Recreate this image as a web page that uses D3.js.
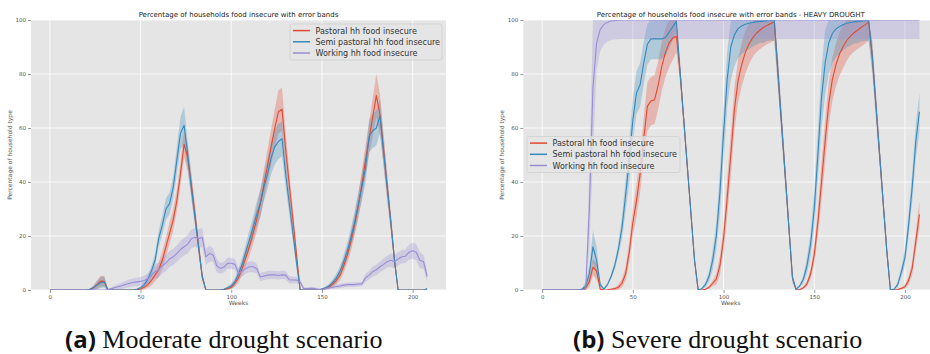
<!DOCTYPE html>
<html>
<head>
<meta charset="utf-8">
<script src="https://cdn.jsdelivr.net/npm/d3@7"></script>
<style>
  body { margin: 0; background: #fff; }
  svg { display: block; font-family: "DejaVu Sans", sans-serif; }
</style>
</head>
<body>
<script>
// x positions of the samples (every 2 weeks, week 0..208)
const weeks = d3.range(0, 209, 2);
const xTicks = [0, 50, 100, 150, 200];
const yTicks = [0, 20, 40, 60, 80, 100];

const seriesNames = ['Pastoral hh food insecure', 'Semi pastoral hh food insecure', 'Working hh food insecure'];
const seriesColors = ['#E24A33', '#348ABD', '#988ED5'];

// (a) moderate drought -- mean % and half-width of the error band
const pastoralA = [
  0, 0, 0, 0, 0, 0, 0, 0, 0, 0,
  0, 0.2, 0.8, 2, 3.3, 3.2, 0, 0, 0, 0,
  0, 0, 0, 0, 0.1, 0.4, 1, 2, 3.5, 5.5,
  7.5, 11, 16, 21, 26, 33, 43, 54, 49, 39,
  28, 16, 5, 0, 0, 0, 0, 0, 0.2, 0.5,
  1, 2.5, 4.5, 8, 12, 16, 21, 26, 32, 39,
  46, 53, 60, 66, 67, 52, 39, 26, 13, 0,
  0, 0, 0, 0, 0, 0.3, 0.6, 1.2, 2.2, 3.6,
  5.5, 9, 13, 18, 24, 31, 39, 48, 56, 64,
  72, 65, 52, 38, 25, 11, 0, 0, 0, 0,
  0, 0, 0, 0, 0
];
const pastoralErrA = [
  0, 0, 0, 0, 0, 0, 0, 0, 0, 0,
  0, 0.3, 0.8, 1.5, 2, 2, 0.3, 0, 0, 0,
  0, 0, 0, 0, 0.2, 0.4, 0.8, 1.2, 1.8, 2.2,
  2.8, 3.2, 3.5, 4, 4, 4, 4.5, 5, 5, 4.5,
  4, 3, 1.5, 0, 0, 0, 0, 0, 0.2, 0.4,
  0.8, 1.2, 1.8, 2.5, 3, 3.5, 4, 4.5, 5, 5.5,
  6, 6.5, 7, 8, 8, 6.5, 5, 4, 2.5, 0,
  0, 0, 0, 0, 0, 0.2, 0.4, 0.7, 1, 1.5,
  2, 2.5, 3, 3.5, 4, 4.5, 5, 5.5, 6, 7,
  8, 7.5, 6, 5, 3.5, 2, 0, 0, 0, 0,
  0, 0, 0, 0, 0
];
const semiA = [
  0, 0, 0, 0, 0, 0, 0, 0, 0, 0,
  0, 0.3, 0.8, 1.8, 2.7, 3, 0, 0, 0, 0,
  0, 0, 0, 0, 0.3, 0.8, 2, 4, 7, 11,
  19, 24, 30, 32, 38, 48, 58, 61, 50, 38,
  27, 16, 5, 0, 0, 0, 0, 0, 0.3, 0.8,
  1.5, 3, 6, 9.5, 14, 18.5, 23, 28, 32, 38,
  43, 49, 53, 55, 56, 43, 32, 21, 10, 0,
  0, 0, 0, 0, 0, 0.4, 0.8, 1.5, 2.8, 4.5,
  7, 10.5, 14.5, 19.5, 25, 31.5, 38, 45, 57, 59,
  60, 64.5, 51, 38, 25, 11, 0, 0, 0, 0,
  0, 0, 0, 0, 0.5
];
const semiErrA = [
  0, 0, 0, 0, 0, 0, 0, 0, 0, 0,
  0, 0.3, 0.8, 1.5, 2, 2, 0.3, 0, 0, 0,
  0, 0, 0, 0, 0.3, 0.6, 1, 1.5, 2, 2.5,
  3, 3.5, 4, 4, 4, 5, 6, 7, 5, 4,
  3, 2.5, 1.5, 0, 0, 0, 0, 0, 0.3, 0.6,
  1, 1.5, 2, 2.5, 3, 3.5, 4, 4.5, 5, 5,
  5.5, 6, 6.5, 6.5, 6.5, 5, 4, 3, 2, 0,
  0, 0, 0, 0, 0, 0.3, 0.5, 0.8, 1.2, 1.6,
  2, 2.5, 3, 3.5, 4, 4.5, 5, 5.5, 6, 6.5,
  6.5, 6.5, 5, 4, 3, 2, 0, 0, 0, 0,
  0, 0, 0, 0, 0.3
];
const workingA = [
  0, 0, 0, 0, 0, 0, 0, 0, 0, 0,
  0, 0, 0, 0, 0, 0, 0.2, 0.5, 0.9, 1.3,
  1.7, 2.1, 2.5, 2.8, 3.0, 3.2, 3.5, 4.2, 5.5, 6.8,
  7.5, 9, 10, 11.5, 12.3, 13.5, 15, 16, 17, 19,
  19.5, 19, 19.5, 12.3, 13.5, 13, 9, 8, 8.5, 9.9,
  9.9, 9.5, 6.2, 7, 8, 8.6, 8.6, 8, 4.8, 5.2,
  5.5, 5.6, 5.6, 5.4, 5.6, 5.5, 3.8, 3.7, 3.7, 3,
  0.5, 0.5, 0.6, 0.5, 0.3, 0.1, 0.5, 0.8, 1, 1.3,
  1.5, 1.8, 2, 2, 2, 2.2, 2.2, 4.5, 5.5, 6.8,
  7.5, 8.6, 9.5, 10.5, 11, 10.5, 11.5, 12.3, 12.5, 14,
  14.5, 14, 11, 10.5, 5
];
const workingErrA = [
  0, 0, 0, 0, 0, 0, 0, 0, 0, 0,
  0, 0, 0, 0, 0, 0, 0.3, 0.5, 0.8, 1,
  1.2, 1.3, 1.5, 1.5, 1.5, 1.6, 1.8, 2, 2.2, 2.5,
  2.8, 3, 3, 3, 3, 3, 3.2, 3.2, 3.5, 3.5,
  3.5, 3.5, 3.5, 3, 3, 2.5, 2.5, 2, 2, 2,
  2, 2, 2, 2, 2, 2, 2, 1.8, 1.5, 1.5,
  1.5, 1.5, 1.5, 1.5, 1.5, 1.5, 1.3, 1.2, 1.2, 1,
  0.5, 0.5, 0.5, 0.5, 0.3, 0.2, 0.5, 0.5, 0.6, 0.7,
  0.8, 0.8, 0.8, 0.8, 0.8, 0.8, 0.8, 1.5, 1.5, 1.8,
  2, 2, 2.2, 2.2, 2.5, 2.5, 2.5, 2.5, 2.5, 2.8,
  3, 3, 3, 2.5, 2
];

// (b) severe drought
const pastoralB = [
  0, 0, 0, 0, 0, 0, 0, 0, 0, 0,
  0, 0.2, 0.8, 3, 8.5, 7, 0.3, 0, 0.1, 0.3,
  0.5, 1, 2.5, 6, 14, 25, 33, 43, 56, 68,
  70, 70.5, 76, 83, 88, 91.5, 93.3, 94, 81, 63.5,
  46, 28.5, 11, 0, 0, 0.3, 1, 2.5, 4, 9,
  19, 34, 50, 67, 77.5, 83.5, 88, 91, 93.3, 95,
  96.2, 97.2, 98, 98.7, 99.3, 80.5, 61.5, 42.5, 23.5, 4.5,
  0, 0.2, 0.8, 2.3, 6, 13, 25, 40, 55, 69,
  78, 83.5, 87.5, 90.3, 92.5, 94, 95.3, 96.3, 97.3, 98.2,
  99.3, 86.5, 68.5, 50.5, 32.5, 14.5, 0, 0, 0.2, 0.6,
  1.2, 3.5, 8, 18, 28
];
const pastoralErrB = [
  0, 0, 0, 0, 0, 0, 0, 0, 0, 0,
  0, 0.3, 1, 2, 3, 3, 0.5, 0, 0, 0.2,
  0.5, 1, 1.5, 2.5, 4, 5, 6, 7, 8, 9,
  9, 9, 9, 9, 9, 9, 8, 6, 4, 3,
  2, 1.5, 1, 0, 0, 0.2, 0.5, 1, 2, 3.5,
  5, 7, 8, 8, 8, 8, 8, 7.5, 7, 7,
  7, 7, 7, 7, 7, 5, 4, 3, 2, 1,
  0, 0.2, 0.5, 1, 2, 3.5, 5, 7, 8, 8,
  8, 8, 8, 8, 7.5, 7, 7, 7, 7, 7,
  7, 5, 4, 3, 2, 1, 0, 0, 0.1, 0.3,
  0.8, 1.5, 2.5, 3.5, 5
];
const semiB = [
  0, 0, 0, 0, 0, 0, 0, 0, 0, 0,
  0, 0.3, 1.5, 6, 16, 11, 2, 0.3, 2, 5,
  9, 15, 23, 35, 48, 63, 73, 76, 84, 91,
  93, 93, 93, 93, 93.5, 95.5, 97.5, 99.5, 81, 63.5,
  46, 28.5, 11, 0, 0.5, 2, 5, 11, 20, 36,
  58, 78, 90, 94.5, 96.8, 97.8, 98.4, 98.8, 99.1, 99.3,
  99.5, 99.6, 99.7, 99.8, 99.9, 80.5, 61.5, 42.5, 23.5, 4.5,
  0.2, 1.5, 4, 9, 17, 30, 50, 71, 84, 91.5,
  95, 96.7, 97.6, 98.3, 98.8, 99.1, 99.3, 99.5, 99.6, 99.7,
  99.9, 86.5, 68.5, 50.5, 32.5, 14.5, 0, 0.3, 2, 6.5,
  12, 24, 38, 55, 66
];
const semiErrB = [
  0, 0, 0, 0, 0, 0, 0, 0, 0, 0,
  0, 0.5, 1.5, 3, 6, 5, 1, 0.3, 0.5, 1,
  1.5, 2.5, 4, 6, 8, 8, 8, 8, 8, 7.5,
  7.5, 7.5, 7.5, 7.5, 7, 6, 5, 4, 3, 2.5,
  2, 1.5, 1, 0, 0.3, 1, 2, 3.5, 5, 8,
  10, 10, 12, 11.5, 11, 10.5, 10, 9.5, 9, 8.5,
  8, 8, 7.5, 7.5, 7.5, 6, 5, 4, 3, 2,
  0.5, 0.5, 1.5, 3, 4.5, 7, 9, 11, 12, 11.5,
  11, 10.5, 10, 9.5, 9, 8.5, 8, 8, 7.5, 7.5,
  7.5, 6, 5, 4, 3, 2, 0.5, 0.3, 1, 2,
  3, 4.5, 5.5, 6.5, 7
];
const workingB = [
  0, 0, 0, 0, 0, 0, 0, 0, 0, 0,
  0, 0, 0.5, 30, 75, 91.5, 96.5, 98.3, 99.2, 99.6,
  99.8, 99.9, 100, 100, 100, 100, 100, 100, 100, 100,
  100, 100, 100, 100, 100, 100, 100, 100, 100, 100,
  100, 100, 100, 100, 100, 100, 100, 100, 100, 100,
  100, 100, 100, 100, 100, 100, 100, 100, 100, 100,
  100, 100, 100, 100, 100, 100, 100, 100, 100, 100,
  100, 100, 100, 100, 100, 100, 100, 100, 100, 100,
  100, 100, 100, 100, 100, 100, 100, 100, 100, 100,
  100, 100, 100, 100, 100, 100, 100, 100, 100, 100,
  100, 100, 100, 100, 100
];
const workingErrB = [
  0, 0, 0, 0, 0, 0, 0, 0, 0, 0,
  0, 0, 0.5, 15, 25, 10, 8, 7.5, 7.2, 7,
  7, 7, 7, 7, 7, 7, 7, 7, 7, 7,
  7, 7, 7, 7, 7, 7, 7, 7, 7, 7,
  7, 7, 7, 7, 7, 7, 7, 7, 7, 7,
  7, 7, 7, 7, 7, 7, 7, 7, 7, 7,
  7, 7, 7, 7, 7, 7, 7, 7, 7, 7,
  7, 7, 7, 7, 7, 7, 7, 7, 7, 7,
  7, 7, 7, 7, 7, 7, 7, 7, 7, 7,
  7, 7, 7, 7, 7, 7, 7, 7, 7, 7,
  7, 7, 7, 7, 7
];

const W = 930, H = 354;
const plotTop = 20, plotBottom = 290;

const svg = d3.select('body').append('svg')
  .attr('width', W)
  .attr('height', H);

const panels = [
  {
    id: 'a', left: 31, right: 446,
    title: 'Percentage of households food insecure with error bands',
    means: [pastoralA, semiA, workingA],
    errs: [pastoralErrA, semiErrA, workingErrA],
    legend: { x: 290, y: 24, w: 152, h: 36 },
    caption: { x: 65, label: '(a)', text: 'Moderate drought scenario' }
  },
  {
    id: 'b', left: 523.3, right: 938.3,
    title: 'Percentage of households food insecure with error bands - HEAVY DROUGHT',
    means: [pastoralB, semiB, workingB],
    errs: [pastoralErrB, semiErrB, workingErrB],
    legend: { x: 527, y: 136.5, w: 153, h: 36 },
    caption: { x: 573, label: '(b)', text: 'Severe drought scenario' }
  }
];

panels.forEach(p => drawPanel(p));

function drawPanel(p) {
  const x = d3.scaleLinear().domain([-10.4, 218.4]).range([p.left, p.right]);
  const y = d3.scaleLinear().domain([0, 100]).range([plotBottom, plotTop]);

  const g = svg.append('g').attr('class', 'panel-' + p.id);

  // Plot background
  g.append('rect')
    .attr('x', p.left).attr('y', plotTop)
    .attr('width', p.right - p.left).attr('height', plotBottom - plotTop)
    .attr('fill', '#E5E5E5');

  // Grid lines
  g.append('g').selectAll('line.hgrid')
    .data(yTicks)
    .join('line')
    .attr('x1', p.left).attr('x2', p.right)
    .attr('y1', d => y(d)).attr('y2', d => y(d))
    .attr('stroke', '#fff').attr('stroke-width', 0.8);
  g.append('g').selectAll('line.vgrid')
    .data(xTicks)
    .join('line')
    .attr('x1', d => x(d)).attr('x2', d => x(d))
    .attr('y1', plotTop).attr('y2', plotBottom)
    .attr('stroke', '#fff').attr('stroke-width', 0.8);

  svg.append('defs').append('clipPath').attr('id', 'clip-' + p.id)
    .append('rect')
    .attr('x', p.left).attr('y', plotTop)
    .attr('width', p.right - p.left).attr('height', plotBottom - plotTop);

  const content = g.append('g').attr('clip-path', `url(#clip-${p.id})`);

  // Error bands (drawn below all lines, like matplotlib collections)
  p.means.forEach((vals, k) => {
    const err = p.errs[k];
    const area = d3.area()
      .x((d, i) => x(weeks[i]))
      .y0((d, i) => y(Math.max(0, d - err[i])))
      .y1((d, i) => y(Math.min(100, d + err[i])));
    content.append('path')
      .datum(vals)
      .attr('d', area)
      .attr('fill', seriesColors[k])
      .attr('fill-opacity', 0.3)
      .attr('stroke', 'none');
  });

  // Mean lines
  p.means.forEach((vals, k) => {
    const line = d3.line()
      .x((d, i) => x(weeks[i]))
      .y(d => y(d));
    content.append('path')
      .datum(vals)
      .attr('d', line)
      .attr('fill', 'none')
      .attr('stroke', seriesColors[k])
      .attr('stroke-width', 1.1)
      .attr('stroke-linejoin', 'round');
  });

  // Axes
  const yAxis = g.append('g')
    .attr('transform', `translate(${p.left},0)`)
    .call(d3.axisLeft(y).tickValues(yTicks).tickSize(3).tickPadding(2));
  const xAxis = g.append('g')
    .attr('transform', `translate(0,${plotBottom})`)
    .call(d3.axisBottom(x).tickValues(xTicks).tickSize(3).tickPadding(2));
  [yAxis, xAxis].forEach(ax => {
    ax.select('.domain').remove();
    ax.selectAll('.tick line').attr('stroke', '#555').attr('stroke-width', 0.6);
    ax.selectAll('.tick text')
      .attr('fill', '#555')
      .style('font-size', '5.5px')
      .style('font-family', '"DejaVu Sans", sans-serif');
  });

  // Title and axis labels
  g.append('text')
    .attr('x', (p.left + p.right) / 2).attr('y', 17)
    .attr('text-anchor', 'middle')
    .style('font-size', '7px')
    .attr('fill', '#222')
    .text(p.title);

  g.append('text')
    .attr('x', (p.left + p.right) / 2).attr('y', 305)
    .attr('text-anchor', 'middle')
    .style('font-size', '6px')
    .attr('fill', '#555')
    .text('Weeks');

  g.append('text')
    .attr('transform', `translate(${p.left - 19},${(plotTop + plotBottom) / 2}) rotate(-90)`)
    .attr('text-anchor', 'middle')
    .style('font-size', '6px')
    .attr('fill', '#555')
    .text('Percentage of household type');

  // Legend
  const lg = g.append('g').attr('transform', `translate(${p.legend.x},${p.legend.y})`);
  lg.append('rect')
    .attr('width', p.legend.w).attr('height', p.legend.h)
    .attr('rx', 2)
    .attr('fill', '#E5E5E5').attr('fill-opacity', 0.8)
    .attr('stroke', '#cfcfcf').attr('stroke-width', 0.8);
  seriesNames.forEach((name, k) => {
    const cy = 6.6 + k * 11.2;
    lg.append('line')
      .attr('x1', 3).attr('x2', 20)
      .attr('y1', cy).attr('y2', cy)
      .attr('stroke', seriesColors[k]).attr('stroke-width', 1.5);
    lg.append('text')
      .attr('x', 25.5).attr('y', cy + 3)
      .style('font-size', '8px')
      .attr('fill', '#333')
      .text(name);
  });

  // Sub-figure caption
  const cap = svg.append('text')
    .attr('x', p.caption.x).attr('y', 348)
    .attr('fill', '#111');
  cap.append('tspan')
    .style('font-family', '"Open Sans", sans-serif')
    .style('font-weight', 700)
    .style('font-size', '24px')
    .text(p.caption.label);
  cap.append('tspan')
    .style('font-family', '"Liberation Serif", serif')
    .style('font-size', '26px')
    .text(' ' + p.caption.text);
}
</script>
</body>
</html>
